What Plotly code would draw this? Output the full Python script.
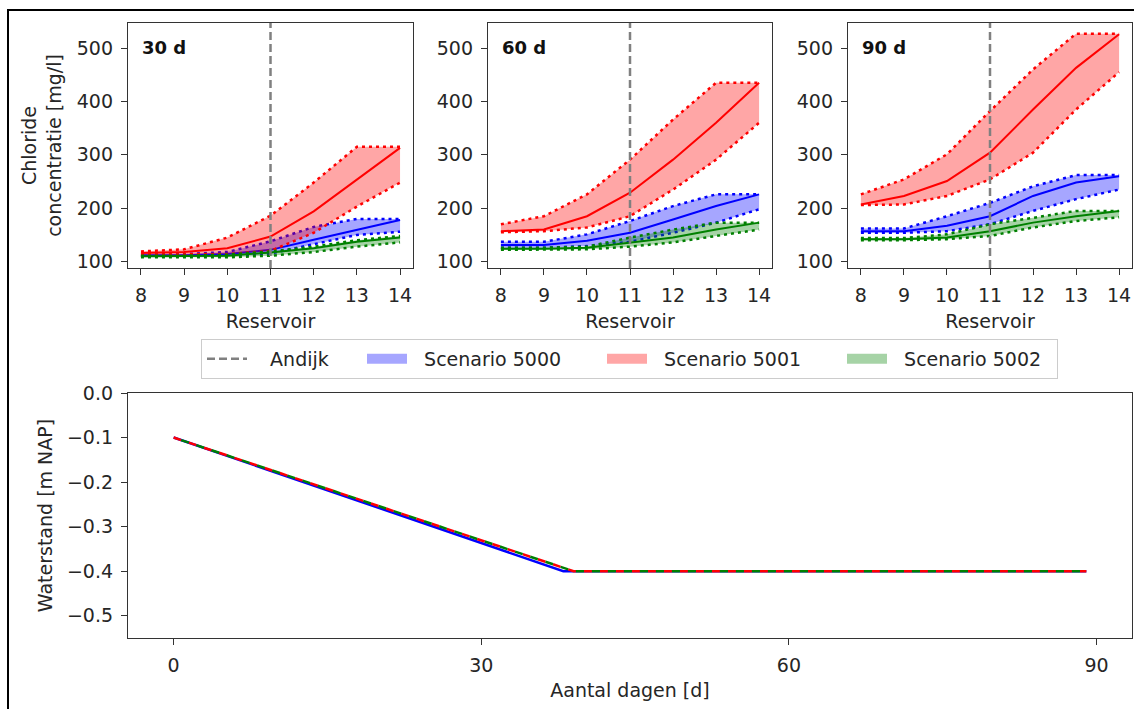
import plotly.graph_objects as go

# ---------------------------------------------------------------- data
RESERVOIRS = [8, 9, 10, 11, 12, 13, 14]
ANDIJK_RESERVOIR = 11
PERIOD_LABELS = ["30 d", "60 d", "90 d"]
SCENARIO_NAMES = ["Scenario 5000", "Scenario 5001", "Scenario 5002"]

# chloride concentration [mg/l] per reservoir, per period: mean, lower, upper
s5000_30_mean = [112, 112, 114, 122, 141, 160, 178]
s5000_30_low = [110, 110, 111, 115, 132, 150, 156]
s5000_30_high = [114, 114, 118, 138, 165, 180, 180]
s5001_30_mean = [116, 118, 125, 147, 194, 253, 313]
s5001_30_low = [113, 113, 114, 120, 154, 203, 248]
s5001_30_high = [119, 123, 145, 186, 248, 315, 315]
s5002_30_mean = [110, 110, 111, 117, 125, 137, 145]
s5002_30_low = [108, 108, 108, 111, 118, 128, 136]
s5002_30_high = [111, 111, 113, 119, 128, 140, 148]

s5000_60_mean = [131, 131, 139, 154, 179, 204, 226]
s5000_60_low = [126, 126, 129, 137, 154, 173, 198]
s5000_60_high = [137, 137, 151, 176, 204, 226, 226]
s5001_60_mean = [157, 160, 185, 229, 291, 360, 435]
s5001_60_low = [155, 157, 164, 185, 235, 291, 360]
s5001_60_high = [170, 185, 226, 291, 366, 435, 435]
s5002_60_mean = [124, 124, 126, 136, 145, 160, 173]
s5002_60_low = [122, 122, 123, 128, 136, 148, 160]
s5002_60_high = [126, 126, 128, 145, 160, 173, 173]

s5000_90_mean = [157, 157, 167, 185, 223, 248, 260]
s5000_90_low = [154, 154, 157, 170, 195, 217, 235]
s5000_90_high = [162, 162, 185, 210, 241, 262, 262]
s5001_90_mean = [207, 223, 251, 304, 385, 463, 526]
s5001_90_low = [206, 207, 223, 254, 304, 385, 455]
s5001_90_high = [226, 254, 301, 382, 460, 527, 527]
s5002_90_mean = [142, 142, 145, 157, 173, 185, 195]
s5002_90_low = [140, 140, 142, 148, 164, 176, 183]
s5002_90_high = [144, 144, 151, 170, 182, 195, 195]

PERIODS = [
    [(s5000_30_mean, s5000_30_low, s5000_30_high),
     (s5001_30_mean, s5001_30_low, s5001_30_high),
     (s5002_30_mean, s5002_30_low, s5002_30_high)],
    [(s5000_60_mean, s5000_60_low, s5000_60_high),
     (s5001_60_mean, s5001_60_low, s5001_60_high),
     (s5002_60_mean, s5002_60_low, s5002_60_high)],
    [(s5000_90_mean, s5000_90_low, s5000_90_high),
     (s5001_90_mean, s5001_90_low, s5001_90_high),
     (s5002_90_mean, s5002_90_low, s5002_90_high)],
]

# water level [m NAP] against day number (piecewise linear breakpoints)
days_5000 = [0, 38, 89]
level_5000 = [-0.10, -0.40, -0.40]
days_5001 = [0, 39, 89]
level_5001 = [-0.10, -0.40, -0.40]
days_5002 = [0, 39, 89]
level_5002 = [-0.10, -0.40, -0.40]

CHLORIDE_TICKS = [100, 200, 300, 400, 500]
CHLORIDE_RANGE = [88, 547]
DAY_TICKS = [0, 30, 60, 90]
DAY_RANGE = [-4.45, 93.45]
LEVEL_TICKS = [0.0, -0.1, -0.2, -0.3, -0.4, -0.5]
LEVEL_TICKTEXT = ["0.0", "\u22120.1", "\u22120.2", "\u22120.3", "\u22120.4", "\u22120.5"]
LEVEL_RANGE = [-0.55, 0.0]

# ---------------------------------------------------------------- styling
W, H = 1134, 709
FONT = "DejaVu Sans"
TEXT = "#262626"
SPINE = "#333333"
LINE_COLORS = ["#0000ff", "#ff0000", "#008000"]
FILL_COLORS = ["rgba(0,0,255,0.35)", "rgba(255,0,0,0.35)", "rgba(0,128,0,0.35)"]
DOTTED = "3px,4px"
NBSP = "\u00a0"


def fx(p):
    return p / W


def fy(p):
    return 1 - p / H


TOP_X = [(128, 413), (488, 772), (848, 1132)]
TOP_Y = (23, 268)
BOT_X = (128, 1132)
BOT_Y = (393, 638)

fig = go.Figure()

for i, scen_data in enumerate(PERIODS):
    xa, ya = f"x{i + 1}", f"y{i + 1}"
    for j, (mean, low, high) in enumerate(scen_data):
        fig.add_trace(go.Scatter(
            x=RESERVOIRS + RESERVOIRS[::-1], y=high + low[::-1],
            fill="toself", fillcolor=FILL_COLORS[j], mode="lines",
            line=dict(width=0), xaxis=xa, yaxis=ya,
            showlegend=False, hoverinfo="skip"))
        for bound in (low, high):
            fig.add_trace(go.Scatter(
                x=RESERVOIRS, y=bound, mode="lines",
                line=dict(color=LINE_COLORS[j], width=2.5, dash=DOTTED),
                xaxis=xa, yaxis=ya, showlegend=False))
        fig.add_trace(go.Scatter(
            x=RESERVOIRS, y=mean, mode="lines",
            line=dict(color=LINE_COLORS[j], width=2),
            xaxis=xa, yaxis=ya, showlegend=False))
    # Andijk reservoir marker line across the full axis height
    fig.add_trace(go.Scatter(
        x=[ANDIJK_RESERVOIR, ANDIJK_RESERVOIR], y=CHLORIDE_RANGE, mode="lines",
        line=dict(color="#808080", width=2.5, dash="8px,4px"),
        xaxis=xa, yaxis=ya, name=NBSP * 3 + "Andijk", legendgroup="andijk",
        showlegend=(i == 0), legendrank=1, legendwidth=105))

# legend patches for the scenarios
for j, name in enumerate(SCENARIO_NAMES):
    fig.add_trace(go.Scatter(
        x=[None], y=[None], mode="lines", name=NBSP * 2 + name,
        line=dict(color=FILL_COLORS[j], width=15),
        xaxis="x1", yaxis="y1", legendrank=2 + j,
        legendwidth=185 if j < 2 else 160))

# water level panel
fig.add_trace(go.Scatter(x=days_5000, y=level_5000, mode="lines",
                         line=dict(color=LINE_COLORS[0], width=2.5),
                         xaxis="x4", yaxis="y4", showlegend=False))
fig.add_trace(go.Scatter(x=days_5001, y=level_5001, mode="lines",
                         line=dict(color=LINE_COLORS[1], width=2.5, dash="8px,8px"),
                         xaxis="x4", yaxis="y4", showlegend=False))
fig.add_trace(go.Scatter(x=days_5002, y=level_5002, mode="lines",
                         line=dict(color=LINE_COLORS[2], width=2.5, dash="0px,8px,8px,0px"),
                         xaxis="x4", yaxis="y4", showlegend=False))

axis_common = dict(
    showline=True, linecolor=SPINE, linewidth=1.3, mirror=True,
    ticks="outside", ticklen=6, tickwidth=1.3, tickcolor=SPINE,
    showgrid=False, zeroline=False, automargin=False,
    tickfont=dict(family=FONT, size=19, color=TEXT), ticklabelstandoff=4,
)

layout = dict(
    width=W, height=H, autosize=False,
    margin=dict(l=0, r=0, t=0, b=0),
    paper_bgcolor="white", plot_bgcolor="white",
    font=dict(family=FONT, size=19, color=TEXT),
    showlegend=True,
    legend=dict(
        orientation="h", x=fx(201), xanchor="left", y=fy(339), yanchor="top",
        bgcolor="white", bordercolor="#cccccc", borderwidth=1,
        font=dict(family=FONT, size=19, color=TEXT), itemwidth=40,
        traceorder="normal",
    ),
)

for i, (x0, x1) in enumerate(TOP_X):
    n = i + 1
    layout[f"xaxis{n}"] = dict(
        axis_common, domain=[fx(x0), fx(x1)], anchor=f"y{n}",
        range=[7.7, 14.3], tickvals=RESERVOIRS,
        title=dict(text="Reservoir", standoff=9, font=dict(family=FONT, size=19, color=TEXT)))
    layout[f"yaxis{n}"] = dict(
        axis_common, domain=[fy(TOP_Y[1]), fy(TOP_Y[0])], anchor=f"x{n}",
        range=CHLORIDE_RANGE, tickvals=CHLORIDE_TICKS)

layout["yaxis1"]["title"] = dict(
    text="Chloride<br>concentratie [mg/l]", standoff=10,
    font=dict(family=FONT, size=19, color=TEXT))

layout["xaxis4"] = dict(
    axis_common, domain=[fx(BOT_X[0]), fx(BOT_X[1])], anchor="y4",
    range=DAY_RANGE, tickvals=DAY_TICKS,
    title=dict(text="Aantal dagen [d]", standoff=8, font=dict(family=FONT, size=19, color=TEXT)))
layout["yaxis4"] = dict(
    axis_common, domain=[fy(BOT_Y[1]), fy(BOT_Y[0])], anchor="x4",
    range=LEVEL_RANGE, tickvals=LEVEL_TICKS, ticktext=LEVEL_TICKTEXT,
    title=dict(text="Waterstand [m NAP]", standoff=9, font=dict(family=FONT, size=19, color=TEXT)))

fig.update_layout(layout)

# period labels in the top-left corner of each panel
for i, label in enumerate(PERIOD_LABELS):
    fig.add_annotation(
        x=fx(TOP_X[i][0] + 12), y=fy(47), xref="paper", yref="paper",
        text=f"<b>{label}</b>", showarrow=False, xanchor="left", yanchor="middle",
        font=dict(family=FONT, size=18, color="#111111"))

# figure frame
fig.add_shape(type="rect", xref="paper", yref="paper",
              x0=fx(8), y0=fy(10), x1=1.02, y1=-0.02,
              line=dict(color="black", width=2), fillcolor="rgba(0,0,0,0)", layer="above")

fig.write_html("out.html")
